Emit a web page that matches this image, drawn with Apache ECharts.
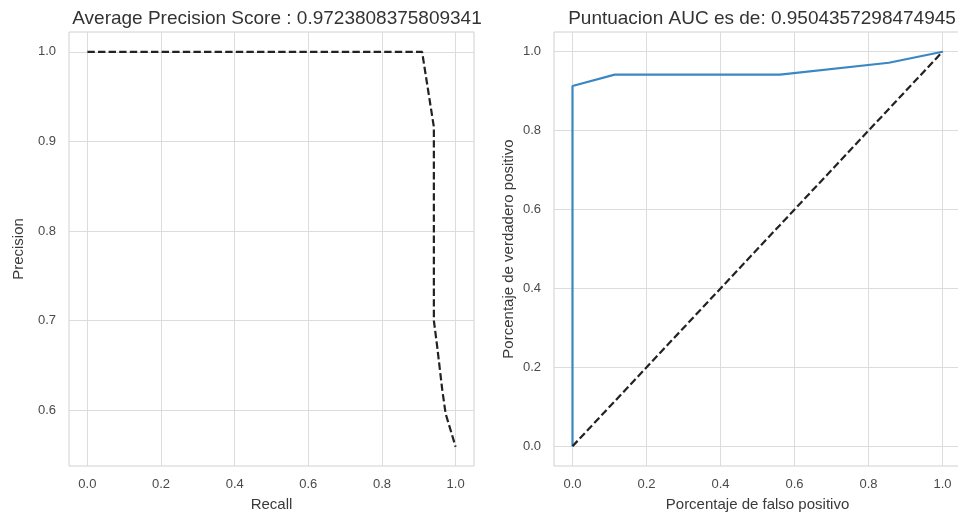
<!DOCTYPE html>
<html><head><meta charset="utf-8">
<script src="https://cdn.jsdelivr.net/npm/echarts@6/dist/echarts.min.js"></script>
<style>html,body{margin:0;padding:0;background:#fff}#c{width:958px;height:514px}</style>
</head><body><div id="c"></div>
<script>
// Precision-Recall curve (recall, precision)
const prRecall    = [0.0, 0.909, 0.941, 0.941, 0.950, 0.964, 0.973, 1.0];
const prPrecision = [1.0, 1.0,   0.916, 0.700, 0.671, 0.622, 0.596, 0.559];
// ROC curve (fpr, tpr)
const rocFpr = [0.0, 0.0,   0.114, 0.561, 0.855, 1.0];
const rocTpr = [0.0, 0.913, 0.942, 0.942, 0.972, 1.0];
// Diagonal reference
const diagX = [0, 1];
const diagY = [0, 1];
const ticks01 = [0, 0.2, 0.4, 0.6, 0.8, 1.0];
const ticksPrec = [0.6, 0.7, 0.8, 0.9, 1.0];
const titleLeft = 'Average Precision Score : 0.9723808375809341';
const titleRight = 'Puntuacion AUC es de: 0.9504357298474945';

const zip = (a, b) => a.map((v, i) => [v, b[i]]);
const FONT = '"Liberation Sans", Arial, sans-serif';
const labelStyle = {color: '#4a4a4a', fontSize: 13, fontFamily: FONT};
const nameStyle = {color: '#3a3a3a', fontSize: 15, fontFamily: FONT};
const split = {show: true, lineStyle: {color: '#dcdcdc', width: 1}};
function xAxis(grid, name) {
  return {type: 'value', gridIndex: grid, min: -0.05, max: 1.05,
    name: name, nameLocation: 'middle', nameGap: 31, nameTextStyle: nameStyle,
    axisLine: {show: false}, axisTick: {show: false, customValues: ticks01},
    axisLabel: Object.assign({customValues: ticks01, margin: 12, formatter: v => v.toFixed(1)}, labelStyle),
    splitLine: split};
}
function yAxis(grid, name, min, max, vals, gap) {
  return {type: 'value', gridIndex: grid, min: min, max: max,
    name: name, nameLocation: 'middle', nameGap: gap, nameRotate: 90, nameTextStyle: nameStyle,
    axisLine: {show: false}, axisTick: {show: false, customValues: vals},
    axisLabel: Object.assign({customValues: vals, margin: 13, formatter: v => v.toFixed(1)}, labelStyle),
    splitLine: split};
}
const chart = echarts.init(document.getElementById('c'), null, {renderer: 'canvas'});
chart.setOption({
  backgroundColor: '#ffffff',
  animation: false,
  title: [
    {text: titleLeft, left: 272, top: 4, textAlign: 'center', textStyle: {color: '#333', fontSize: 19, fontWeight: 'normal', fontFamily: FONT}},
    {text: titleRight, left: 757, top: 4, textAlign: 'center', textStyle: {color: '#333', fontSize: 19, fontWeight: 'normal', fontFamily: FONT}}
  ],
  grid: [
    {left: 69, top: 32, width: 405, height: 434, outerBoundsMode: 'none', containLabel: false, show: true, borderColor: '#d0d0d0', borderWidth: 1, backgroundColor: 'transparent'},
    {left: 554, top: 32, width: 407, height: 434, outerBoundsMode: 'none', containLabel: false, show: true, borderColor: '#d0d0d0', borderWidth: 1, backgroundColor: 'transparent'}
  ],
  xAxis: [xAxis(0, 'Recall'), xAxis(1, 'Porcentaje de falso positivo')],
  yAxis: [yAxis(0, 'Precision', 0.5376, 1.0221, ticksPrec, 43), yAxis(1, 'Porcentaje de verdadero positivo', -0.05, 1.05, ticks01, 38)],
  series: [
    {type: 'line', xAxisIndex: 0, yAxisIndex: 0, data: zip(prRecall, prPrecision), showSymbol: false,
      lineStyle: {color: '#222', width: 2.2, type: [7.4, 3.2]}},
    {type: 'line', xAxisIndex: 1, yAxisIndex: 1, data: zip(rocFpr, rocTpr), showSymbol: false,
      lineStyle: {color: '#3a87c2', width: 2.2}},
    {type: 'line', xAxisIndex: 1, yAxisIndex: 1, data: zip(diagX, diagY), showSymbol: false,
      lineStyle: {color: '#222', width: 2.2, type: [7.4, 3.2]}}
  ]
});
</script></body></html>
